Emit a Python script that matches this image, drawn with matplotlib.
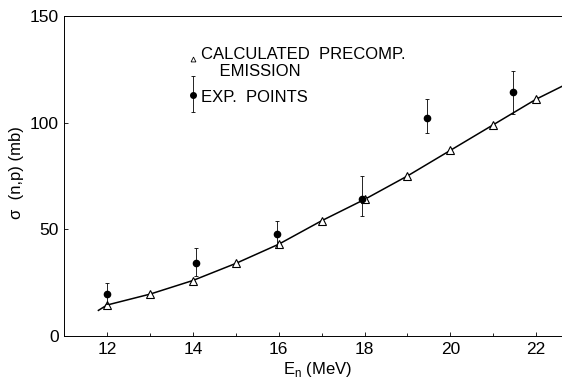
import numpy as np
import matplotlib
matplotlib.use('Agg')
import matplotlib.pyplot as plt
from matplotlib.ticker import MultipleLocator

plt.rcParams['font.family'] = ['Liberation Sans', 'DejaVu Sans']

# calculated precompound emission (triangles)
calc_e = [12, 13, 14, 15, 16, 17, 18, 19, 20, 21, 22]
calc_s = [14.5, 19.6, 26, 34, 43, 54, 64, 75, 87, 99, 111]

# smooth curve through the calculation
curve_e = [11.8, 12, 13, 14, 15, 16, 17, 18, 19, 20, 21, 22, 22.6]
curve_s = [12, 14.5, 19.6, 26, 34, 43, 54, 64, 75, 87, 99, 111, 117]

# experimental points with error bars
exp_e = [12, 14.08, 15.96, 17.93, 19.45, 21.46]
exp_s = [19.6, 34, 48, 64, 102, 114.5]
exp_lo = [15, 28, 41, 56, 95, 104]
exp_hi = [25, 41, 54, 75, 111, 124]

fig = plt.figure(figsize=(5.62, 3.79), dpi=100)
ax = fig.add_axes([0.114, 0.1135, 0.886, 0.8445])

ax.plot(curve_e, curve_s, color='black', lw=1.1, zorder=2)
ax.plot(calc_e, calc_s, ls='none', marker='^', ms=5.5, mfc='white', mec='black',
        mew=0.8, zorder=3)
yerr = [np.array(exp_s) - np.array(exp_lo), np.array(exp_hi) - np.array(exp_s)]
ax.errorbar(exp_e, exp_s, yerr=yerr, fmt='o', ms=4.5, color='black',
            ecolor='black', elinewidth=0.6, capsize=1.5, capthick=0.6, ls='none',
            zorder=4)

# legend drawn by hand
ax.plot([14.0], [130], ls='none', marker='^', ms=3.5, mfc='white', mec='black', mew=0.6)
ax.errorbar([14.0], [113], yerr=[[8], [9]], fmt='o', ms=4, color='black',
            elinewidth=0.6, capsize=1.2, capthick=0.6)
ax.text(14.2, 128, 'CALCULATED  PRECOMP.\n    EMISSION', fontsize=12,
        va='center', ha='left', linespacing=1.15)
ax.text(14.2, 112, 'EXP.  POINTS', fontsize=12, va='center', ha='left')

ax.set_xlim(11, 22.6)
ax.set_ylim(0, 150)
ax.xaxis.set_major_locator(MultipleLocator(2))
ax.xaxis.set_minor_locator(MultipleLocator(1))
ax.yaxis.set_major_locator(MultipleLocator(50))
ax.tick_params(direction='in', length=3, width=0.6, labelsize=12.5, pad=4)
ax.tick_params(which='minor', direction='in', length=2, width=0.6)
ax.spines['right'].set_visible(False)
for s in ['left', 'bottom', 'top']:
    ax.spines[s].set_linewidth(0.7)

ax.set_xlabel('E$_\\mathregular{n}$ (MeV)', fontsize=12)
ax.xaxis.set_label_coords(0.51, -0.075)
ax.set_ylabel('σ  (n,p) (mb)', fontsize=12)
ax.yaxis.set_label_coords(-0.08, 0.51)

fig.savefig('out.png', dpi=100)
